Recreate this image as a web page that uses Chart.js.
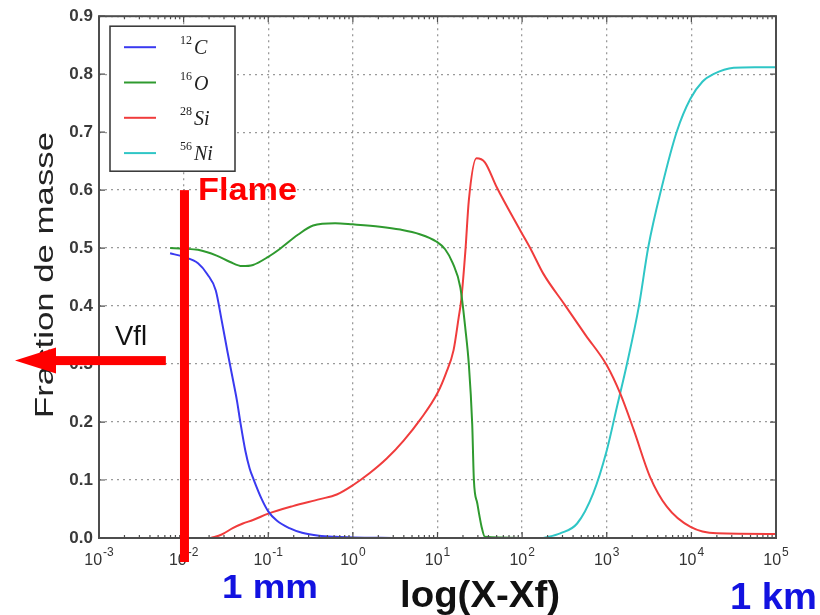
<!DOCTYPE html>
<html>
<head>
<meta charset="utf-8">
<script src="https://cdn.jsdelivr.net/npm/chart.js"></script>
<style>
  body { margin: 0; background: #fff; }
  canvas { display: block; }
</style>
</head>
<body>
<canvas id="grafica" width="820" height="615"></canvas>
<script>
// Données (x en décades : log10(X-Xf))
const logC12 = [-2.16, -2.0, -1.83, -1.72, -1.62, -1.55, -1.48, -1.42, -1.37, -1.33, -1.27, -1.22, -1.17, -1.08, -1.0, -0.9, -0.75, -0.6, -0.4, -0.2, 0.0, 0.5];
const fracC12 = [0.491, 0.485, 0.474, 0.455, 0.427, 0.375, 0.32, 0.275, 0.237, 0.2, 0.15, 0.12, 0.1, 0.068, 0.046, 0.03, 0.017, 0.009, 0.004, 0.002, 0.001, 0];

const logO16 = [-2.16, -2.0, -1.83, -1.61, -1.45, -1.31, -1.18, -1.0, -0.86, -0.65, -0.47, -0.21, 0.0, 0.32, 0.56, 0.79, 0.99, 1.09, 1.18, 1.27, 1.33, 1.37, 1.41, 1.43, 1.47, 1.52, 1.56, 2.0];
const fracO16 = [0.5, 0.499, 0.497, 0.487, 0.476, 0.469, 0.471, 0.485, 0.499, 0.523, 0.539, 0.543, 0.541, 0.537, 0.532, 0.524, 0.511, 0.498, 0.474, 0.432, 0.36, 0.3, 0.197, 0.1, 0.06, 0.02, 0.002, 0];

const logSi28 = [-1.68, -1.55, -1.42, -1.3, -1.18, -1.0, -0.71, -0.39, -0.19, 0.0, 0.2, 0.4, 0.6, 0.8, 1.0, 1.1, 1.19, 1.25, 1.28, 1.33, 1.37, 1.46, 1.56, 1.7, 1.98, 2.11, 2.25, 2.5, 2.75, 3.0, 3.16, 3.32, 3.51, 3.71, 3.99, 4.3, 5.0];
const fracSi28 = [0, 0.006, 0.017, 0.025, 0.031, 0.042, 0.055, 0.067, 0.075, 0.091, 0.112, 0.137, 0.168, 0.205, 0.25, 0.284, 0.324, 0.38, 0.41, 0.496, 0.582, 0.655, 0.648, 0.605, 0.53, 0.496, 0.456, 0.403, 0.35, 0.298, 0.249, 0.186, 0.106, 0.054, 0.019, 0.008, 0.007];

const logNi56 = [2.25, 2.45, 2.65, 2.84, 3.0, 3.12, 3.24, 3.38, 3.49, 3.65, 3.83, 3.99, 4.13, 4.26, 4.5, 4.75, 5.0];
const fracNi56 = [0, 0.008, 0.025, 0.077, 0.151, 0.226, 0.301, 0.4, 0.501, 0.605, 0.702, 0.758, 0.787, 0.8, 0.811, 0.812, 0.812];

const decades = [-3, -2, -1, 0, 1, 2, 3, 4, 5];
const especes = [
  { masse: "12", nom: "C", couleur: "#3a3af0", xs: logC12, ys: fracC12 },
  { masse: "16", nom: "O", couleur: "#2f9a2f", xs: logO16, ys: fracO16 },
  { masse: "28", nom: "Si", couleur: "#f03c3c", xs: logSi28, ys: fracSi28 },
  { masse: "56", nom: "Ni", couleur: "#2fc6c6", xs: logNi56, ys: fracNi56 }
];

// position de la flamme et de la flèche (annotations)
const flammeX = -1.99;
const flammeHaut = 0.6;
const flecheY = 0.306;
const flecheFinX = -2.21;

function texteAjuste(ctx, texte, x, y, largeur, police, couleur) {
  ctx.save();
  ctx.font = police;
  ctx.fillStyle = couleur;
  ctx.textAlign = "left";
  ctx.textBaseline = "alphabetic";
  const w = ctx.measureText(texte).width;
  ctx.translate(x, y);
  ctx.scale(largeur / w, 1);
  ctx.fillText(texte, 0, 0);
  ctx.restore();
}

const decorPlugin = {
  id: "decor",
  afterDatasetsDraw(chart) {
    const { ctx, chartArea: a, scales: { x, y } } = chart;
    ctx.save();

    // cadre
    ctx.strokeStyle = "#4d4d4d";
    ctx.lineWidth = 2;
    ctx.strokeRect(a.left, a.top, a.right - a.left, a.bottom - a.top);

    // graduations vers l'intérieur
    ctx.lineWidth = 1.2;
    ctx.beginPath();
    decades.forEach(n => {
      const px = x.getPixelForValue(n);
      ctx.moveTo(px, a.bottom); ctx.lineTo(px, a.bottom - 6);
      ctx.moveTo(px, a.top); ctx.lineTo(px, a.top + 6);
      if (n < 5) {
        for (let k = 2; k <= 9; k++) {
          const pm = x.getPixelForValue(n + Math.log10(k));
          ctx.moveTo(pm, a.bottom); ctx.lineTo(pm, a.bottom - 3);
          ctx.moveTo(pm, a.top); ctx.lineTo(pm, a.top + 3);
        }
      }
    });
    y.ticks.forEach(t => {
      const py = y.getPixelForValue(t.value);
      ctx.moveTo(a.left, py); ctx.lineTo(a.left + 6, py);
      ctx.moveTo(a.right, py); ctx.lineTo(a.right - 6, py);
    });
    ctx.stroke();

    // étiquettes 10^n
    ctx.fillStyle = "#333";
    ctx.textBaseline = "alphabetic";
    ctx.textAlign = "left";
    decades.forEach(n => {
      const px = x.getPixelForValue(n);
      const exp = n < 0 ? "-" + Math.abs(n) : String(n);
      ctx.font = '16px "Liberation Sans"';
      const w1 = ctx.measureText("10").width;
      ctx.font = '12px "Liberation Sans"';
      const w2 = ctx.measureText(exp).width;
      const x0 = px - (w1 + w2 + 1) / 2;
      ctx.font = '16px "Liberation Sans"';
      ctx.fillText("10", x0, a.bottom + 27);
      ctx.font = '12px "Liberation Sans"';
      ctx.fillText(exp, x0 + w1 + 1, a.bottom + 18);
    });

    // légende
    const lx = a.left + 11, ly = a.top + 10;
    ctx.fillStyle = "#fff";
    ctx.fillRect(lx, ly, 125, 145);
    ctx.strokeStyle = "#333";
    ctx.lineWidth = 1.5;
    ctx.strokeRect(lx, ly, 125, 145);
    especes.forEach((e, i) => {
      const yy = ly + 21 + i * 35.3;
      ctx.strokeStyle = e.couleur;
      ctx.lineWidth = 2;
      ctx.beginPath();
      ctx.moveTo(lx + 14, yy);
      ctx.lineTo(lx + 46, yy);
      ctx.stroke();
      ctx.fillStyle = "#222";
      ctx.font = '12px "Liberation Serif"';
      ctx.fillText(e.masse, lx + 70, yy - 3);
      const wm = ctx.measureText(e.masse).width;
      ctx.font = 'italic 20px "Liberation Serif"';
      ctx.fillText(e.nom, lx + 72 + wm, yy + 7);
    });

    // titres d'axes et textes
    ctx.save();
    ctx.font = '25px "Liberation Sans"';
    const wt = ctx.measureText("Fraction de masse").width;
    ctx.fillStyle = "#222";
    ctx.translate(53, 275);
    ctx.rotate(-Math.PI / 2);
    ctx.scale(286 / wt, 1);
    ctx.textAlign = "center";
    ctx.fillText("Fraction de masse", 0, 0);
    ctx.restore();

    texteAjuste(ctx, "log(X-Xf)", 400, 607, 160, 'bold 37px "Liberation Sans"', "#111");
    texteAjuste(ctx, "1 mm", 222, 598, 96, 'bold 33px "Liberation Sans"', "#1212e0");
    texteAjuste(ctx, "1 km", 730, 609, 87, 'bold 37px "Liberation Sans"', "#1212e0");
    texteAjuste(ctx, "Flame", 198, 200, 99, 'bold 31px "Liberation Sans"', "#ff0000");
    texteAjuste(ctx, "Vfl", 115, 345, 32, '27px "Liberation Sans"', "#111");

    // ligne de flamme
    ctx.fillStyle = "#ff0000";
    const fx = x.getPixelForValue(flammeX);
    const fTop = y.getPixelForValue(flammeHaut);
    ctx.fillRect(fx - 4.5, fTop, 9, a.bottom + 24 - fTop);

    // flèche Vfl
    const fy = y.getPixelForValue(flecheY);
    const finX = x.getPixelForValue(flecheFinX);
    ctx.fillRect(54, fy - 4.5, finX - 54, 9);
    ctx.beginPath();
    ctx.moveTo(15, fy);
    ctx.lineTo(56, fy - 13);
    ctx.lineTo(56, fy + 13);
    ctx.closePath();
    ctx.fill();

    ctx.restore();
  }
};

const ctx = document.getElementById("grafica").getContext("2d");
new Chart(ctx, {
  type: "line",
  data: {
    datasets: especes.map(e => ({
      label: e.masse + e.nom,
      data: e.xs.map((v, i) => ({ x: v, y: e.ys[i] })),
      borderColor: e.couleur,
      borderWidth: 2,
      pointRadius: 0,
      fill: false,
      cubicInterpolationMode: "monotone"
    }))
  },
  options: {
    responsive: false,
    animation: false,
    layout: { padding: { top: 15, right: 44, left: 0, bottom: 0 } },
    plugins: { legend: { display: false }, tooltip: { enabled: false } },
    scales: {
      x: {
        type: "linear",
        min: -3,
        max: 5,
        ticks: { stepSize: 1, display: false },
        grid: { color: "rgba(120,120,120,0.75)", lineWidth: 1.3, drawTicks: false },
        border: { display: false, dash: [2, 4] },
        afterFit(scale) { scale.height = 77; }
      },
      y: {
        min: 0,
        max: 0.9,
        ticks: {
          stepSize: 0.1,
          padding: 6,
          color: "#3a3a3a",
          font: { family: "Liberation Sans", size: 17, weight: "bold" },
          callback: v => v.toFixed(1)
        },
        grid: { color: "rgba(120,120,120,0.75)", lineWidth: 1.3, drawTicks: false },
        border: { display: false, dash: [2, 4] },
        afterFit(scale) { scale.width = 99; }
      }
    }
  },
  plugins: [decorPlugin]
});
</script>
</body>
</html>
